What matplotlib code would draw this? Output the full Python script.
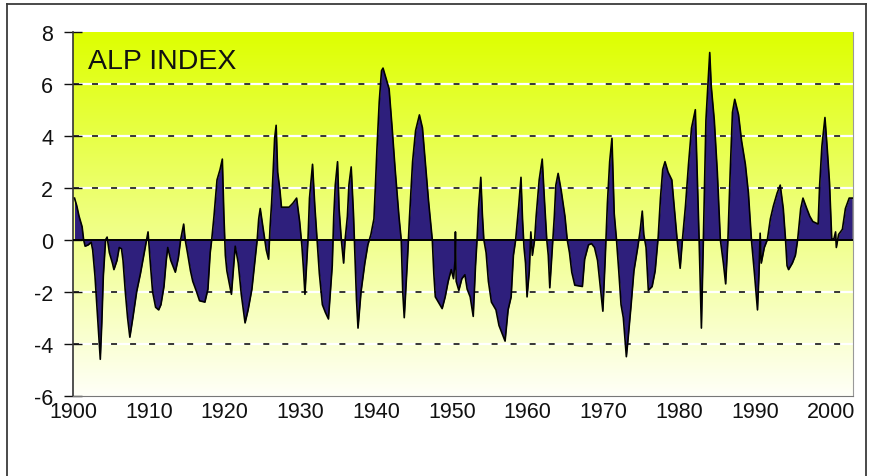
import matplotlib
matplotlib.use("Agg")
import matplotlib.pyplot as plt
import numpy as np
from matplotlib.lines import Line2D

plt.rcParams["font.family"] = ["Liberation Sans", "DejaVu Sans"]
plt.rcParams["lines.scale_dashes"] = False

# ALP index series (decimal year, index value)
years = [
    1900.2, 1900.5, 1900.8, 1901.2, 1901.4, 1901.6, 1902.0, 1902.4, 1902.6, 1902.9,
    1903.2, 1903.4, 1903.6, 1903.8, 1904.0, 1904.3, 1904.5, 1904.8, 1905.2, 1905.4,
    1905.8, 1906.1, 1906.4, 1906.6, 1906.9, 1907.2, 1907.5, 1907.9, 1908.4, 1908.9,
    1909.4, 1909.7, 1909.9, 1910.2, 1910.5, 1910.9, 1911.3, 1911.6, 1912.0, 1912.3,
    1912.5, 1912.9, 1913.3, 1913.5, 1913.9, 1914.2, 1914.6, 1914.8, 1915.1, 1915.5,
    1915.8, 1916.3, 1916.7, 1917.4, 1917.8, 1918.1, 1918.3, 1918.6, 1919.0, 1919.4,
    1919.7, 1919.9, 1920.1, 1920.3, 1920.9, 1921.4, 1921.8, 1922.2, 1922.7, 1923.1,
    1923.6, 1924.0, 1924.3, 1924.5, 1924.7, 1924.9, 1925.2, 1925.5, 1925.8, 1926.0,
    1926.2, 1926.4, 1926.6, 1926.8, 1927.0, 1927.3, 1927.5, 1928.5, 1929.0, 1929.5,
    1929.9, 1930.2, 1930.4, 1930.6, 1931.0, 1931.2, 1931.6, 1931.9, 1932.2, 1932.5,
    1932.9, 1933.3, 1933.7, 1934.2, 1934.4, 1934.6, 1934.9, 1935.1, 1935.4, 1935.7,
    1935.9, 1936.2, 1936.4, 1936.7, 1937.0, 1937.2, 1937.4, 1937.6, 1938.0, 1938.5,
    1938.9, 1939.3, 1939.7, 1939.9, 1940.1, 1940.4, 1940.7, 1940.9, 1941.3, 1941.7,
    1942.1, 1942.5, 1943.0, 1943.3, 1943.5, 1943.7, 1944.1, 1944.4, 1944.8, 1945.2,
    1945.7, 1946.1, 1946.5, 1946.9, 1947.4, 1947.6, 1947.8, 1948.2, 1948.7, 1949.1,
    1949.5, 1949.9, 1950.2, 1950.4, 1950.45, 1950.55, 1950.9, 1951.3, 1951.7, 1952.0,
    1952.4, 1952.8, 1953.1, 1953.3, 1953.5, 1953.8, 1954.0, 1954.2, 1954.5, 1954.8,
    1955.2, 1955.8, 1956.2, 1957.0, 1957.4, 1957.8, 1958.1, 1958.4, 1958.8, 1959.1,
    1959.3, 1959.5, 1959.7, 1959.9, 1960.2, 1960.4, 1960.6, 1960.9, 1961.1, 1961.5,
    1961.9, 1962.2, 1962.5, 1962.7, 1962.9, 1963.3, 1963.5, 1963.7, 1964.0, 1964.4,
    1964.9, 1965.2, 1965.5, 1965.8, 1966.2, 1967.2, 1967.5, 1968.0, 1968.4, 1968.8,
    1969.2, 1969.6, 1969.9, 1970.2, 1970.5, 1970.8, 1971.1, 1971.4, 1971.7, 1972.0,
    1972.3, 1972.6, 1973.0, 1973.2, 1973.6, 1974.0, 1974.5, 1974.8, 1975.1, 1975.3,
    1975.6, 1975.9, 1976.4, 1976.8, 1977.2, 1977.5, 1977.8, 1978.1, 1978.5, 1979.0,
    1979.4, 1979.7, 1980.1, 1980.4, 1980.8, 1981.2, 1981.6, 1982.1, 1982.4, 1982.6,
    1982.9, 1983.1, 1983.5, 1984.0, 1984.2, 1984.6, 1985.0, 1985.4, 1985.8, 1986.1,
    1986.4, 1986.7, 1987.0, 1987.3, 1987.8, 1988.2, 1988.7, 1989.1, 1989.5, 1989.9,
    1990.3, 1990.5, 1990.65, 1990.8, 1991.2, 1991.6, 1992.0, 1992.4, 1992.9, 1993.3,
    1993.7, 1994.0, 1994.2, 1994.4, 1994.9, 1995.3, 1995.6, 1996.0, 1996.3, 1996.8,
    1997.2, 1997.6, 1998.3, 1998.5, 1998.8, 1999.2, 1999.5, 1999.8, 2000.1, 2000.4,
    2000.6, 2000.7, 2001.0, 2001.5, 2001.9, 2002.4, 2002.8,
]
alp_index = [
    1.6, 1.3, 0.9, 0.5, 0.0, -0.25, -0.2, -0.1, -0.4, -1.4,
    -2.8, -3.8, -4.6, -3.2, -1.4, 0.0, 0.1, -0.5, -0.9, -1.15,
    -0.8, -0.3, -0.35, -0.8, -2.0, -3.0, -3.75, -3.0, -2.0, -1.3,
    -0.5, 0.0, 0.3, -0.9, -2.0, -2.6, -2.7, -2.5, -1.8, -0.8,
    -0.3, -0.8, -1.1, -1.25, -0.7, 0.0, 0.6, 0.0, -0.5, -1.2,
    -1.6, -2.0, -2.35, -2.4, -1.9, -0.5, 0.0, 0.9, 2.3, 2.7,
    3.1, 1.0, -0.6, -1.2, -2.1, -0.25, -0.9, -2.1, -3.2, -2.7,
    -1.9, -0.8, 0.0, 0.8, 1.2, 0.8, 0.2, -0.4, -0.75, 0.5,
    1.4, 2.6, 3.9, 4.4, 2.6, 1.9, 1.25, 1.25, 1.4, 1.6,
    0.7, -0.25, -1.1, -2.1, 0.0, 1.6, 2.9, 1.3, 0.0, -1.3,
    -2.5, -2.8, -3.05, -1.0, 0.9, 2.1, 3.0, 1.2, 0.0, -0.9,
    0.0, 0.9, 2.1, 2.8, 1.0, -0.7, -2.3, -3.4, -2.0, -0.9,
    -0.2, 0.2, 0.8, 2.1, 3.5, 5.3, 6.5, 6.6, 6.2, 5.8,
    4.3, 2.7, 0.9, 0.0, -2.0, -3.0, -0.9, 0.9, 3.0, 4.2,
    4.8, 4.3, 2.9, 1.5, 0.0, -1.3, -2.2, -2.4, -2.65, -2.2,
    -1.6, -1.15, -1.5, -0.8, 0.3, -1.6, -1.95, -1.5, -1.35, -1.9,
    -2.2, -2.95, -1.0, 0.0, 1.2, 2.4, 1.0, 0.0, -0.5, -1.6,
    -2.4, -2.7, -3.3, -3.9, -2.7, -2.2, -0.6, 0.0, 1.3, 2.4,
    0.8, -0.3, -0.9, -2.2, -1.2, 0.3, -0.6, 0.0, 0.9, 2.3,
    3.1, 1.5, 0.0, -0.6, -1.85, 0.0, 0.9, 2.1, 2.55, 1.9,
    0.9, 0.0, -0.5, -1.25, -1.75, -1.8, -0.75, -0.2, -0.15, -0.3,
    -0.8, -1.9, -2.75, -0.8, 1.4, 3.0, 3.9, 1.0, 0.0, -1.2,
    -2.5, -3.0, -4.5, -3.9, -2.6, -1.2, -0.3, 0.3, 1.1, 0.2,
    -0.3, -1.95, -1.8, -1.2, 0.1, 1.6, 2.7, 3.0, 2.6, 2.3,
    1.0, 0.0, -1.1, 0.0, 1.3, 2.9, 4.3, 5.0, 2.0, 0.0,
    -3.4, -0.8, 4.6, 7.2, 5.9, 4.6, 2.6, 0.0, -0.9, -1.7,
    0.0, 2.6, 4.9, 5.4, 4.8, 3.8, 2.9, 1.8, 0.0, -1.3,
    -2.7, -1.3, 0.25, -0.9, -0.3, 0.0, 0.8, 1.3, 1.8, 2.1,
    1.2, 0.0, -1.0, -1.15, -0.9, -0.6, 0.0, 1.2, 1.6, 1.2,
    0.9, 0.7, 0.6, 2.1, 3.6, 4.7, 3.5, 2.2, 0.0, 0.05,
    0.3, -0.3, 0.2, 0.4, 1.2, 1.6, 1.6,
]

x_ticks = list(range(1900, 2001, 10))
y_ticks = [-6, -4, -2, 0, 2, 4, 6, 8]
grid_levels = [-4, -2, 2, 4, 6]
title_text = "ALP INDEX"

x_min, x_max = 1900.0, 2002.9
y_min, y_max = -6, 8

W, H = 870, 477
fig = plt.figure(figsize=(W / 100, H / 100), dpi=100)
fig.patch.set_facecolor("white")

# outer chart frame
frame_kw = dict(color="#3a3a3a", lw=1.3, transform=fig.transFigure)
fig.add_artist(Line2D([7 / W, 7 / W], [0, 1 - 5 / H], **frame_kw))
fig.add_artist(Line2D([7 / W, 866 / W], [1 - 5 / H, 1 - 5 / H], **frame_kw))
fig.add_artist(Line2D([866 / W, 866 / W], [0, 1 - 5 / H], **frame_kw))

ax = fig.add_axes([73 / W, 1 - 396.7 / H, 780 / W, 364 / H])

# vertical yellow-to-white background gradient
top = np.array([222, 255, 0]) / 255.0
bottom = np.array([255, 255, 248]) / 255.0
t = np.linspace(0, 1, 256)[:, None]
grad = (top * (1 - t) + bottom * t)[:, None, :]
ax.imshow(grad, extent=[x_min, x_max, y_min, y_max], aspect="auto",
          zorder=0, interpolation="bilinear")

for lvl in grid_levels:
    ax.axhline(lvl, color="white", lw=1.6, zorder=1)
    ax.axhline(lvl, color="black", lw=1.1, dashes=(4.3, 9.4), zorder=1.5)

ax.fill_between(years, alp_index, 0, color="#2e1f7c", lw=0, zorder=2)
ax.plot(years, alp_index, color="black", lw=1.2, zorder=3)
ax.axhline(0, color="black", lw=1.4, zorder=4)

ax.set_xlim(x_min, x_max)
ax.set_ylim(y_min, y_max)
ax.set_xticks(x_ticks)
ax.set_xticklabels([str(v) for v in x_ticks])
ax.set_yticks(y_ticks)
ax.set_yticklabels([str(v) for v in y_ticks])
ax.tick_params(axis="x", length=0, pad=4, labelsize=15.5, colors="#111111")
ax.tick_params(axis="y", direction="inout", length=12.5, width=1.0,
               pad=8, labelsize=15.5, colors="#111111")

ax.spines["top"].set_visible(False)
ax.spines["left"].set_color("#333333")
ax.spines["left"].set_linewidth(1.2)
ax.spines["bottom"].set_color("#777777")
ax.spines["right"].set_color("#999999")
ax.spines["bottom"].set_zorder(5)

ax.text(1902.0, 6.87, title_text, fontsize=20.5, color="#111111",
        ha="left", va="center", zorder=6)

fig.savefig("out.png", dpi=100)
